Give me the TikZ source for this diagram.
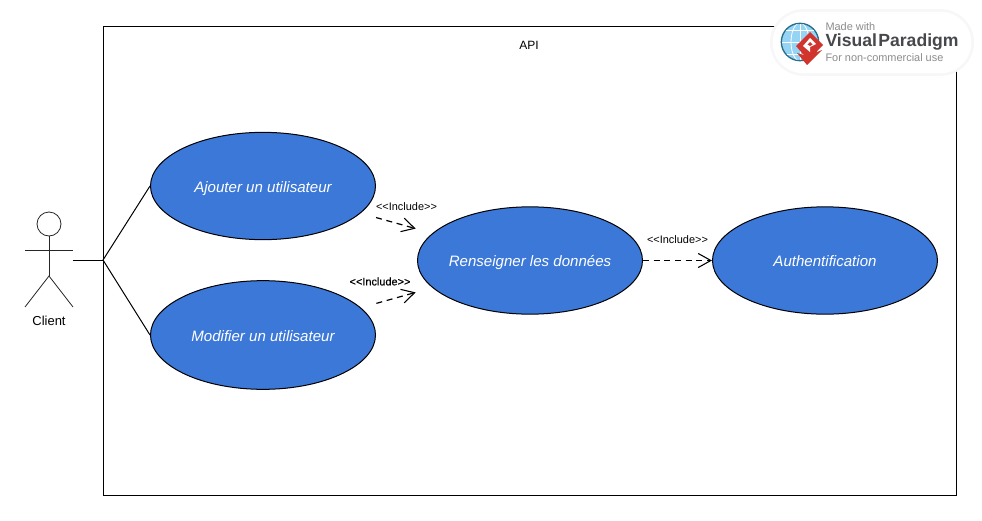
\documentclass[tikz,border=0pt]{standalone}
\usepackage{fontspec}
\setmainfont{Liberation Sans}
\newfontfamily\heavyfont[FakeBold=0.4]{Liberation Sans}
\usetikzlibrary{arrows.meta,positioning,fit,calc,shapes.geometric}
\definecolor{usecase}{RGB}{60,120,216}
\definecolor{globe}{RGB}{150,212,245}
\definecolor{globeline}{RGB}{40,110,135}
\definecolor{vpred}{RGB}{208,52,44}
\definecolor{vpgrey}{RGB}{140,140,140}
\definecolor{vpdark}{RGB}{70,72,76}
\newcommand{\inclabel}{<{}<Include>{}>}

\begin{document}
\begin{tikzpicture}[x=0.75pt,y=-0.75pt,>=Latex,font=\fontsize{8.2pt}{9pt}\selectfont,
  line width=0.75pt,
  usecasenode/.style={draw,ellipse,fill=usecase,text=white,minimum width=168.75pt,minimum height=80.5pt,inner ysep=0pt,inner xsep=-20pt,
    text height=10pt,text depth=1pt,font=\fontsize{11.3pt}{13pt}\selectfont\itshape},
  includeline/.style={dash pattern=on 4.5pt off 3.5pt,line width=0.9pt,-{Straight Barb[length=9.5pt,width=10.5pt,line width=0.8pt]}},
  stickline/.style={line width=0.6pt,draw=black!85}]
\useasboundingbox (0,0) rectangle (982,521);

% system boundary
\node(system)[draw,minimum width=639.75pt,minimum height=351.75pt,inner sep=0pt] at (529.5,260.5){};
\node(systemtitle)[font=\fontsize{9pt}{11pt}\selectfont] at (529,45){API};

% use cases
\node(ajouter)[usecasenode] at (263,186){Ajouter un utilisateur};
\node(modifier)[usecasenode,minimum height=81.5pt] at (263,335){Modifier un utilisateur};
\node(renseigner)[usecasenode] at (530,260.5){Renseigner les données};
\node(authentification)[usecasenode] at (825,260.5){Authentification};

% actor
\node(head)[draw,stickline,circle,minimum size=18pt,inner sep=0pt] at (49,224){};
\coordinate(hip) at (49,276);
\coordinate(armleft) at (25,250);
\coordinate(armright) at (73,250);
\coordinate(footleft) at (25,307);
\coordinate(footright) at (73,307);
\draw[stickline] (head.south) -- (hip);
\draw[stickline] (armleft) -- (armright);
\draw[stickline] (footleft) -- (hip) -- (footright);
\node(client)[font=\fontsize{9.75pt}{11pt}\selectfont] at (49,320.5){Client};

% associations
\coordinate(hand) at (73,260);
\coordinate(fork) at (103,260);
\draw (hand) -- (fork);
\draw (fork) -- (ajouter.west);
\draw (fork) -- (modifier.west);

% includes
\draw[includeline,shorten <=12pt,shorten >=13pt] (ajouter) -- (renseigner);
\draw[includeline,shorten <=12pt,shorten >=13pt] (modifier) -- (renseigner);
\draw[includeline] (renseigner.east) -- (authentification.west);
\node(includea) at (406.5,207){\inclabel};
\node(includeb) at (380,281.5){\heavyfont \inclabel};
\node(includec) at (677.5,239.5){\inclabel};

% badge
\node(badgeglow)[fill=black!3,rounded corners=25pt,minimum width=153pt,minimum height=50pt,inner sep=0pt] at (872,42.5){};
\node(badge)[fill=white,rounded corners=23pt,minimum width=149pt,minimum height=46pt,inner sep=0pt] at (872,42.5){};
\node(globeicon)[circle,draw=globeline,fill=globe,line width=1pt,minimum size=28pt,inner sep=0pt] at (800,42){};
\begin{scope}
\clip (800,42) circle (18);
\foreach \yy in {30,42,54} \draw[white,line width=0.6pt] (780,\yy) -- (820,\yy);
\draw[white,line width=0.6pt] (800,22) -- (800,62);
\draw[white,line width=0.6pt] (800,42) ellipse (9 and 19);
\end{scope}
\fill[vpred] (807,56) -- (822,50) -- (807,65) -- (797,53) -- cycle;
\fill[vpred] (810,32) -- (823,45) -- (808,60) -- (796,46) -- cycle;
\fill[white] (810,38) -- (816,44) -- (810,47) -- (810,52) -- (803,46) -- cycle;
\fill[vpred] (810,42) -- (812.5,44.5) -- (810,46) -- (807.5,44.5) -- cycle;
\node(madewith)[anchor=west,inner sep=0pt,text=vpgrey,font=\fontsize{8.2pt}{9pt}\selectfont] at (825,27){Made with};
\node(vpname)[anchor=west,inner sep=0pt,text=vpdark,font=\fontsize{13.2pt}{15pt}\selectfont\bfseries] at (825,42){Visual\kern1pt Paradigm};
\node(noncommercial)[anchor=west,inner sep=0pt,text=vpgrey,font=\fontsize{8.2pt}{9pt}\selectfont] at (825,57.5){For non-commercial use};
\end{tikzpicture}
\end{document}
